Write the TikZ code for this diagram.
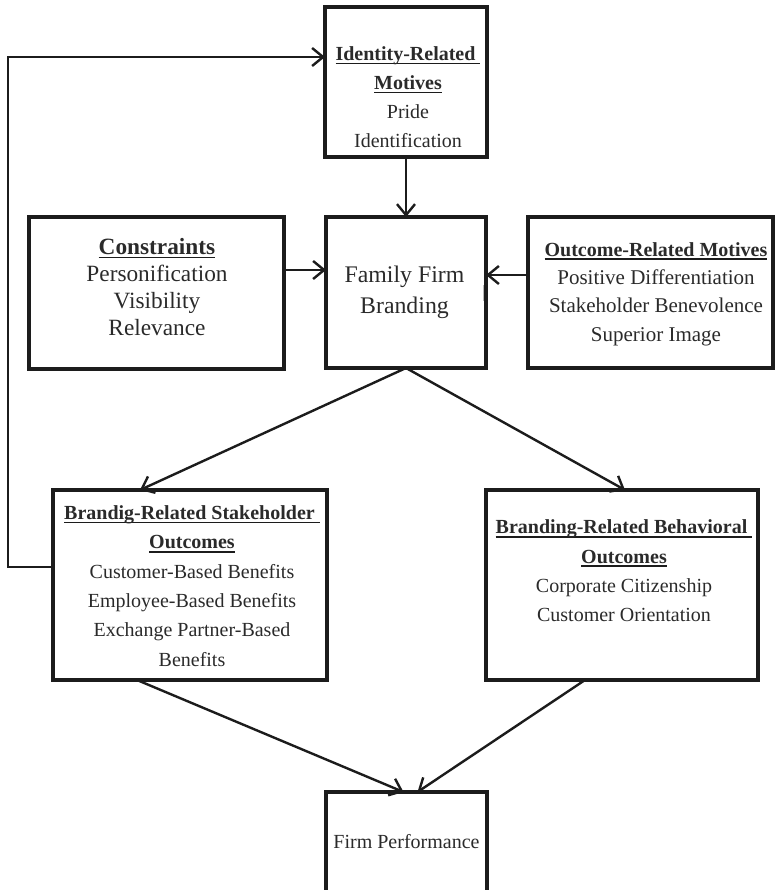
\documentclass[tikz,border=0pt]{standalone}
\usepackage{fontspec}
\setmainfont{Liberation Serif}
\usetikzlibrary{arrows.meta}
\definecolor{ink}{HTML}{1C1C1C}
\definecolor{txt}{HTML}{2A2A2A}
% underlined heading with a heavier rule than \underline gives
\newsavebox\hulbox
\newcommand\hul[1]{\sbox\hulbox{#1}\rlap{\color{ink}\rule[-4pt]{\wd\hulbox}{1.8pt}}\usebox\hulbox}
\begin{document}
\begin{tikzpicture}[x=1pt,y=-1pt,
  box/.style={draw=ink, line width=3.4pt, inner sep=0pt, outer sep=0pt},
  lbl/.style={align=center, text=txt, inner sep=0pt},
  arr/.style={draw=ink, line width=2.4pt, -{Straight Barb[length=11pt,width=18pt]}}]
\clip (0,0) rectangle (777,890);

% boxes
\node[box, minimum width=162pt, minimum height=150pt] (ident)  at (406,82) {};
\node[box, minimum width=255pt, minimum height=152pt] (constr) at (156.5,293) {};
\node[box, minimum width=160pt, minimum height=151pt] (family) at (406,292.5) {};
\node[box, minimum width=245pt, minimum height=151pt] (outc)   at (650.5,292.5) {};
\node[box, minimum width=274pt, minimum height=190pt] (stake)  at (190,585) {};
\node[box, minimum width=272pt, minimum height=190pt] (behav)  at (622,585) {};
\node[box, minimum width=161pt, minimum height=108pt] (perf)   at (406.5,846) {};

% box texts
\node[lbl, font=\fontsize{20}{29}\selectfont] (ident-t) at (408,97)
  {\textbf{\hul{Identity-Related\ }}\\\textbf{\hul{Motives}}\\Pride\\Identification};
\node[lbl, font=\fontsize{23.3}{27}\selectfont] (constr-t) at (157,287)
  {\textbf{\hul{Constraints}}\\Personification\\Visibility\\Relevance};
\node[lbl, font=\fontsize{23.8}{31}\selectfont] (family-t) at (404.5,292)
  {Family Firm\\Branding};
\node[lbl, font=\fontsize{21}{28.3}\selectfont] (outc-t) at (656,294)
  {{\fontsize{20}{28.3}\selectfont\textbf{\hul{Outcome-Related Motives}}}\\Positive Differentiation\\Stakeholder Benevolence\\Superior Image};
\node[lbl, font=\fontsize{20}{29.4}\selectfont] (stake-t) at (192,586)
  {\textbf{\hul{Brandig-Related Stakeholder\ }}\\\textbf{\hul{Outcomes}}\\Customer-Based Benefits\\Employee-Based Benefits\\Exchange Partner-Based\\Benefits};
\node[lbl, font=\fontsize{20}{29.4}\selectfont] (behav-t) at (624,571)
  {\textbf{\hul{Branding-Related Behavioral\ }}\\\textbf{\hul{Outcomes}}\\Corporate Citizenship\\Customer Orientation};
\node[lbl, font=\fontsize{20}{24}\selectfont] (perf-t) at (406.5,842) {Firm Performance};

% small stray mark inside the branding box
\draw[gray!55, line width=1pt] (483,285) -- (483,301);

% connectors
\coordinate (fbLow) at (8,567);
\coordinate (fbHigh) at (8,57);
\draw[arr] (stake.west |- fbLow) -- (fbLow) -- (fbHigh) -- (ident.west |- fbHigh);
\draw[arr] (ident.south) -- (family.north);
\coordinate (cLeft) at (0,270);
\coordinate (cRight) at (0,275);
\draw[arr] (constr.east |- cLeft) -- (family.west |- cLeft);
\draw[arr] (outc.west |- cRight) -- (family.east |- cRight);
\draw[arr] (family.south) -- ([xshift=87pt]stake.north west);
\draw[arr] (family.south) -- ([xshift=139pt]behav.north west);
\draw[arr] ([xshift=84pt]stake.south west) -- ([xshift=-3pt]perf.north);
\draw[arr] ([xshift=99pt]behav.south west) -- ([xshift=11pt]perf.north);
\end{tikzpicture}
\end{document}
